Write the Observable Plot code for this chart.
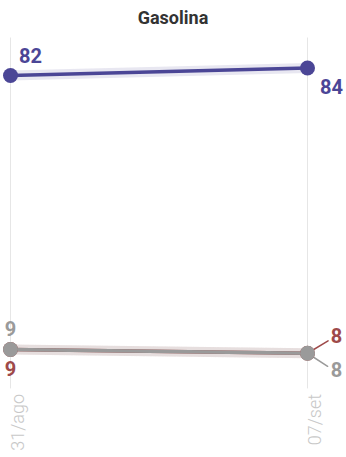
<!DOCTYPE html>
<html>
<head>
<meta charset="utf-8">
<script src="https://cdn.jsdelivr.net/npm/d3@7"></script>
<script src="https://cdn.jsdelivr.net/npm/@observablehq/plot@0.6"></script>
<style>
  html, body { margin: 0; padding: 0; background: #fff; }
  body { width: 346px; height: 457px; overflow: hidden; font-family: Roboto, sans-serif; }
  #title { height: 34px; line-height: 36px; text-align: center; font-size: 18px; font-weight: 700; color: #333; }
</style>
</head>
<body>
<div id="title">Gasolina</div>
<div id="chart"></div>
<script>
const dates = ["31/ago", "07/set"];
const seriesNames = ["Série 1", "Série 2", "Série 3"];
const series1Values = [82, 84];
const series2Values = [9, 8];
const series3Values = [9, 8];
const seriesColors = ["#4b4696", "#9e4a4a", "#9a9a9a"];

const valueLists = [series1Values, series2Values, series3Values];
const rows = [];
seriesNames.forEach((name, i) => {
  dates.forEach((d, j) => rows.push({serie: name, date: d, value: valueLists[i][j], idx: j}));
});
const color = Object.fromEntries(seriesNames.map((n, i) => [n, seriesColors[i]]));
const of = (name) => rows.filter(r => r.serie === name);
const first = (name) => rows.filter(r => r.serie === name && r.idx === 0);
const last = (name) => rows.filter(r => r.serie === name && r.idx === dates.length - 1);

const marks = [
  Plot.ruleX(dates, {x: d => d, stroke: "#e6e6e6", strokeWidth: 1})
];
for (const name of seriesNames) {
  marks.push(Plot.line(of(name), {x: "date", y: "value", stroke: color[name], strokeWidth: 10, strokeOpacity: 0.13}));
}
for (const name of seriesNames) {
  marks.push(Plot.line(of(name), {x: "date", y: "value", stroke: color[name], strokeWidth: 3.5}));
}
// leader lines at right end for the two low series
const spike = {draw(context, l) { context.moveTo(0, 0); context.lineTo(0, -l); }};
marks.push(Plot.vector(last(seriesNames[1]), {x: "date", y: "value", length: 24, rotate: 59, anchor: "start", shape: spike, stroke: color[seriesNames[1]], strokeWidth: 1.5}));
marks.push(Plot.vector(last(seriesNames[2]), {x: "date", y: "value", length: 24, rotate: 123, anchor: "start", shape: spike, stroke: color[seriesNames[2]], strokeWidth: 1.5}));
for (const name of seriesNames) {
  marks.push(Plot.dot(of(name), {x: "date", y: "value", r: 7.5, fill: color[name]}));
}
const labelStyle = {x: "date", y: "value", text: d => String(d.value), fontSize: 20, fontWeight: 700, fontFamily: "Roboto"};
marks.push(Plot.text(first(seriesNames[0]), {...labelStyle, fill: color[seriesNames[0]], dx: 20, dy: -19}));
marks.push(Plot.text(last(seriesNames[0]), {...labelStyle, fill: color[seriesNames[0]], dx: 24, dy: 20}));
marks.push(Plot.text(first(seriesNames[2]), {...labelStyle, fill: color[seriesNames[2]], dx: 0, dy: -20}));
marks.push(Plot.text(first(seriesNames[1]), {...labelStyle, fill: color[seriesNames[1]], dx: 0, dy: 20}));
marks.push(Plot.text(last(seriesNames[1]), {...labelStyle, fill: color[seriesNames[1]], dx: 29, dy: -17}));
marks.push(Plot.text(last(seriesNames[2]), {...labelStyle, fill: color[seriesNames[2]], dx: 29, dy: 17}));
// rotated date labels
marks.push(Plot.text(dates, {x: d => d, text: d => d, frameAnchor: "bottom", rotate: -90, textAnchor: "end", lineAnchor: "top", dx: 1, dy: 5, fontSize: 18, fontWeight: 300, fontFamily: "Roboto", fill: "#c8c8c8"}));

const chart = Plot.plot({
  width: 346,
  height: 423,
  marginTop: 3.5,
  marginBottom: 68.6,
  marginLeft: 10,
  marginRight: 39,
  x: {type: "point", domain: dates, padding: 0, axis: null},
  y: {domain: [-1.5, 92], axis: null},
  style: {background: "transparent", overflow: "visible"},
  marks
});
document.getElementById("chart").appendChild(chart);
</script>
</body>
</html>
